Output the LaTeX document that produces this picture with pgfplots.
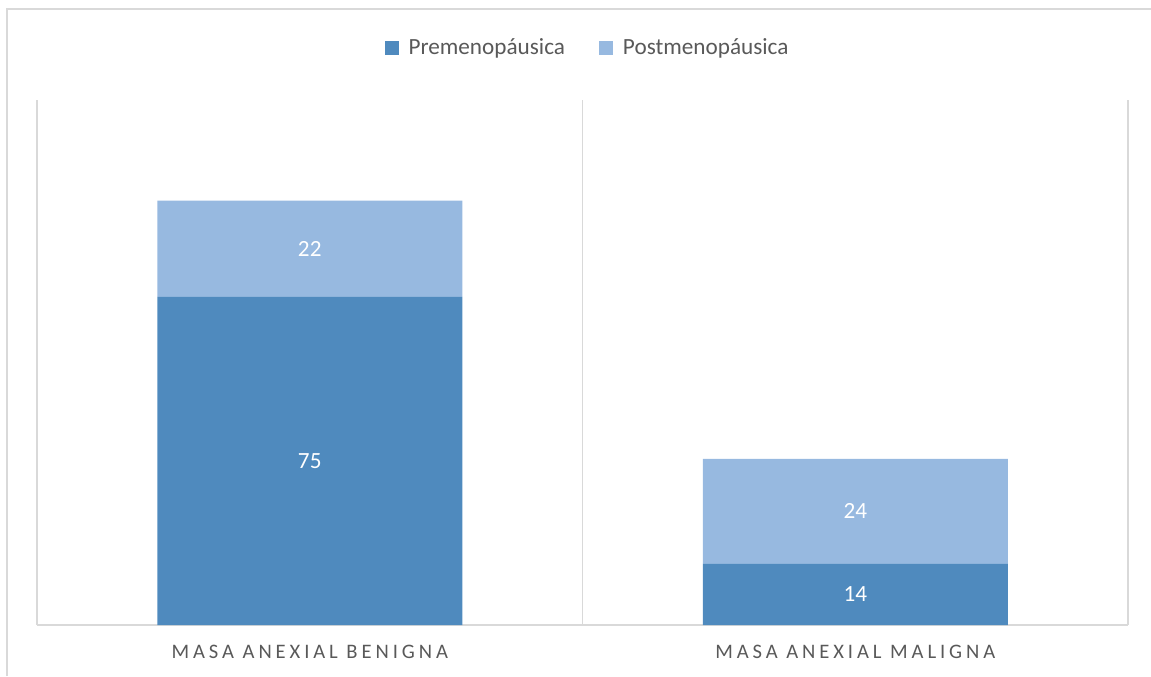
\documentclass[border=0pt]{standalone}
\usepackage{fontspec}
\setmainfont{Carlito}
\newfontfamily\spaced{Carlito}[LetterSpace=19]
\usepackage{pgfplots}
\pgfplotsset{compat=1.18}
\definecolor{dark}{HTML}{4F8ABE}
\definecolor{light}{HTML}{97B9E0}
\definecolor{gridc}{HTML}{D9D9D9}
\definecolor{txt}{HTML}{595959}
\pgfplotstableread{
x pre post
0 75 22
1 14 24
}\datatab
\begin{document}
\begin{tikzpicture}
\useasboundingbox (0,0) rectangle (575.5pt,338pt);
\draw[gridc, line width=0.8pt] (3.6pt,0) -- (3.6pt,333.6pt) -- (576pt,333.6pt);
\pgfplotsset{common/.style={at={(18.5pt,25.5pt)}, anchor=south west, scale only axis,
  width=545.5pt, height=262.5pt, xmin=-0.5, xmax=1.5, ymin=0, ymax=120}}
\begin{axis}[common,
  ybar stacked, bar width=152.5pt,
  axis y line=none, axis x line*=bottom,
  x axis line style={gridc, line width=0.8pt, -},
  xtick={0,1}, xticklabels={MASA ANEXIAL BENIGNA, MASA ANEXIAL MALIGNA},
  major tick length=0, minor tick length=0,
  xticklabel style={font=\spaced\fontsize{10.3pt}{12pt}\selectfont, text=txt, yshift=-6.5pt},
  minor xtick={-0.5,0.5,1.5}, xminorgrids,
  minor grid style={gridc, line width=0.6pt},
  legend style={at={(0.5,1)}, anchor=center, yshift=26pt, xshift=3pt, draw=none, fill=none,
    legend columns=-1, font=\fontsize{11.6pt}{13pt}\selectfont, text=txt,
    /tikz/every odd column/.style={column sep=3pt},
    /tikz/every even column/.style={column sep=15pt}},
  legend image code/.code={\fill[#1] (0pt,-3.4pt) rectangle (7pt,3.4pt);},
]
\addplot[fill=dark, draw=none] table[x=x, y=pre] {\datatab};
\addplot[fill=light, draw=none] table[x=x, y=post] {\datatab};
\legend{Premenopáusica, Postmenopáusica}
\end{axis}
\begin{axis}[common, hide axis]
\addplot[draw=none, mark=none, nodes near coords, point meta=explicit symbolic,
  every node near coord/.style={anchor=center, text=white, font=\fontsize{11.6pt}{13pt}\selectfont}]
  coordinates {(0,37.5)[75] (0,86)[22] (1,7)[14] (1,26)[24]};
\end{axis}
\end{tikzpicture}
\end{document}
